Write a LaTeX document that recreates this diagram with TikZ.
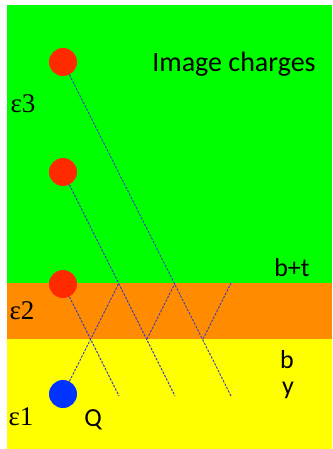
\documentclass[tikz,border=0pt]{standalone}
\usepackage{fontspec}
\setmainfont{Carlito}
\newfontfamily\serifgr{Liberation Serif}
\definecolor{layergreen}{HTML}{00FF00}
\definecolor{layerorange}{HTML}{FF8C00}
\definecolor{layeryellow}{HTML}{FFFF00}
\definecolor{chargered}{HTML}{FF2A00}
\definecolor{chargeblue}{HTML}{0033FF}
\definecolor{raycol}{HTML}{3A3AC8}
\tikzset{
  charge/.style={circle,minimum size=28pt,inner sep=0pt,fill=#1},
  ray/.style={draw=raycol,line width=0.9pt,dash pattern=on 2.4pt off 1.4pt},
  lab/.style={inner sep=0pt,font=\fontsize{26}{26}\selectfont},
  eps/.style={inner sep=0pt,font=\serifgr\fontsize{27}{27}\selectfont},
}
\begin{document}
\begin{tikzpicture}[x=1pt,y=-1pt]
\useasboundingbox (0,0) rectangle (332,449);
\fill[white] (0,0) rectangle (332,449);
\fill[layergreen] (7,5) rectangle (332,283);
\fill[layerorange] (7,283) rectangle (332,339);
\fill[layeryellow] (7,339) rectangle (332,449);
% charges
\node[charge=chargered] (r1) at (63,62) {};
\node[charge=chargered] (r2) at (63,172) {};
\node[charge=chargered] (r3) at (63,284) {};
\node[charge=chargeblue] (q) at (63,394) {};
% bounce points
\coordinate (t1) at (119,283);
\coordinate (t2) at (175,283);
\coordinate (t3) at (231,283);
\coordinate (b1) at (147,339);
\coordinate (b2) at (203,339);
\coordinate (e1) at (119,396);
\coordinate (e2) at (175,396);
\coordinate (e3) at (231,396);
% rays
\draw[ray] (r1) -- (e3);
\draw[ray] (r2) -- (e2);
\draw[ray] (r3) -- (e1);
\draw[ray] (q) -- (t1);
\draw[ray] (b1) -- (t2);
\draw[ray] (b2) -- (t3);
% labels
\node[inner sep=0pt,font=\fontsize{28}{28}\selectfont] (title) at (234,64) {Image charges};
\node[eps] (eps3) at (23,104) {ε3};
\node[eps] (eps2) at (22,311) {ε2};
\node[eps] (eps1) at (21,417) {ε1};
\node[lab] (bt) at (292,268) {b+t};
\node[lab] (b) at (287,360) {b};
\node[lab] (y) at (288,390) {y};
\node[lab] (Q) at (93,420) {Q};
\end{tikzpicture}
\end{document}
